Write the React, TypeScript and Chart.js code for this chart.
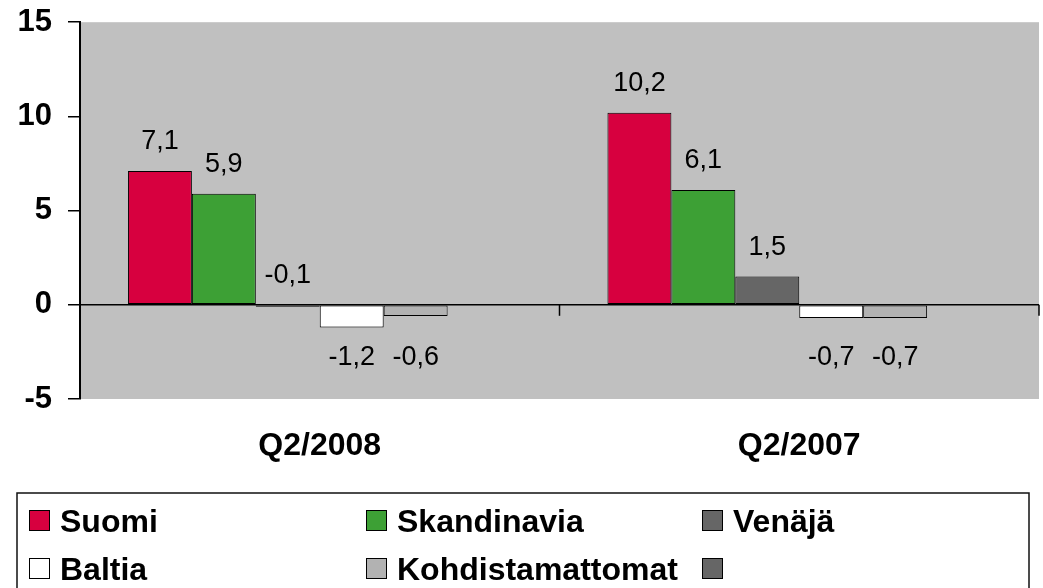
import React, { useEffect, useRef } from "react";
import { Chart, registerables } from "chart.js";

Chart.register(...registerables);

const categories = ["Q2/2008", "Q2/2007"];
const seriesNames = ["Suomi", "Skandinavia", "Venäjä", "Baltia", "Kohdistamattomat", ""];
const suomi = [7.1, 10.2];
const skandinavia = [5.9, 6.1];
const venaja = [-0.1, 1.5];
const baltia = [-1.2, -0.7];
const kohdistamattomat = [-0.6, -0.7];
const unnamed: (number | null)[] = [null, null];
const yTickValues = [-5, 0, 5, 10, 15];
const seriesColors = ["#D7003F", "#3DA035", "#666666", "#FFFFFF", "#B2B2B2", "#666666"];

const FONT = "'Liberation Sans', Arial, sans-serif";

const fmt = (v: number) => v.toFixed(1).replace(".", ",");

const backgroundPlugin = {
  id: "plotBg",
  beforeDraw(chart: any) {
    const { ctx, chartArea } = chart;
    ctx.save();
    ctx.fillStyle = "#C0C0C0";
    ctx.fillRect(chartArea.left, chartArea.top, chartArea.right - chartArea.left, chartArea.bottom - chartArea.top);
    ctx.restore();
  },
};

const overlayPlugin = {
  id: "overlay",
  afterDatasetsDraw(chart: any) {
    const { ctx } = chart;
    const xs = chart.scales.x;
    const ys = chart.scales.y;
    const y0 = ys.getPixelForValue(0);
    ctx.save();
    ctx.strokeStyle = "#000";
    ctx.lineWidth = 1.5;
    const n = categories.length;
    for (let i = 0; i <= n; i++) {
      const x = xs.left + (i * (xs.right - xs.left)) / n;
      ctx.beginPath();
      ctx.moveTo(x, y0);
      ctx.lineTo(x, y0 + 11);
      ctx.stroke();
    }
    ctx.fillStyle = "#000";
    ctx.font = `27px ${FONT}`;
    ctx.textAlign = "center";
    ctx.textBaseline = "middle";
    chart.data.datasets.forEach((ds: any, di: number) => {
      const meta = chart.getDatasetMeta(di);
      ds.data.forEach((v: number | null, i: number) => {
        if (v === null || v === undefined) return;
        const el = meta.data[i];
        let y: number;
        if (v >= 0 || Math.abs(v) < 0.5) {
          y = Math.min(el.y, y0) - 29;
        } else {
          y = y0 + 53;
        }
        ctx.fillText(fmt(v), el.x, y);
      });
    });
    ctx.restore();
  },
  afterDraw(chart: any) {
    const { ctx } = chart;
    ctx.save();
    ctx.strokeStyle = "#111";
    ctx.lineWidth = 1.5;
    ctx.strokeRect(17, 493, 1012, 200);
    const colX = [29, 366, 702];
    const rowY = [520, 568];
    ctx.font = `bold 32px ${FONT}`;
    ctx.textAlign = "left";
    ctx.textBaseline = "alphabetic";
    chart.data.datasets.forEach((ds: any, i: number) => {
      const col = i % 3;
      const row = Math.floor(i / 3);
      const sx = colX[col];
      const cy = rowY[row];
      ctx.fillStyle = ds.backgroundColor;
      ctx.fillRect(sx, cy - 10, 21, 21);
      ctx.strokeStyle = "#000";
      ctx.lineWidth = 1;
      ctx.strokeRect(sx + 0.5, cy - 9.5, 20, 20);
      if (ds.label) {
        ctx.fillStyle = "#000";
        ctx.fillText(ds.label, sx + 31, cy + 11.5);
      }
    });
    ctx.restore();
  },
};

export default function App() {
  const canvasRef = useRef<HTMLCanvasElement | null>(null);

  useEffect(() => {
    if (!canvasRef.current) return;
    const seriesData = [suomi, skandinavia, venaja, baltia, kohdistamattomat, unnamed];
    const chart = new Chart(canvasRef.current, {
      type: "bar",
      data: {
        labels: categories,
        datasets: seriesData.map((d, i) => ({
          label: seriesNames[i],
          data: d,
          backgroundColor: seriesColors[i],
          borderColor: "#000",
          borderWidth: 1,
          borderSkipped: false,
          categoryPercentage: 0.8,
          barPercentage: 1.0,
        })),
      },
      options: {
        animation: false,
        responsive: true,
        maintainAspectRatio: false,
        layout: { padding: { top: 0, right: 4, left: 0, bottom: 0 } },
        plugins: {
          legend: { display: false },
          tooltip: { enabled: false },
        },
        scales: {
          x: {
            grid: { display: false, drawTicks: false },
            border: { display: false },
            ticks: {
              color: "#000",
              font: { family: FONT, size: 32, weight: "bold" },
              padding: 28,
            },
            afterFit: (s: any) => {
              s.height = 189;
            },
          },
          y: {
            min: -5,
            max: 15,
            afterBuildTicks: (s: any) => {
              s.ticks = yTickValues.map((v) => ({ value: v }));
            },
            ticks: {
              color: "#000",
              font: { family: FONT, size: 31, weight: "bold", lineHeight: 0.4 },
              padding: 16,
            },
            grid: {
              color: (c: any) => (c.tick && c.tick.value === 0 ? "#000" : "rgba(0,0,0,0)"),
              tickColor: "#000",
              tickLength: 12,
              lineWidth: 1.5,
            },
            border: { display: true, color: "#000", width: 2 },
            afterFit: (s: any) => {
              s.width = 80;
            },
          },
        },
      },
      plugins: [backgroundPlugin, overlayPlugin],
    });
    return () => chart.destroy();
  }, []);

  return (
    <div style={{ position: "fixed", left: 0, top: 0, width: 1043, height: 588, background: "#fff" }}>
      <canvas ref={canvasRef} />
    </div>
  );
}
